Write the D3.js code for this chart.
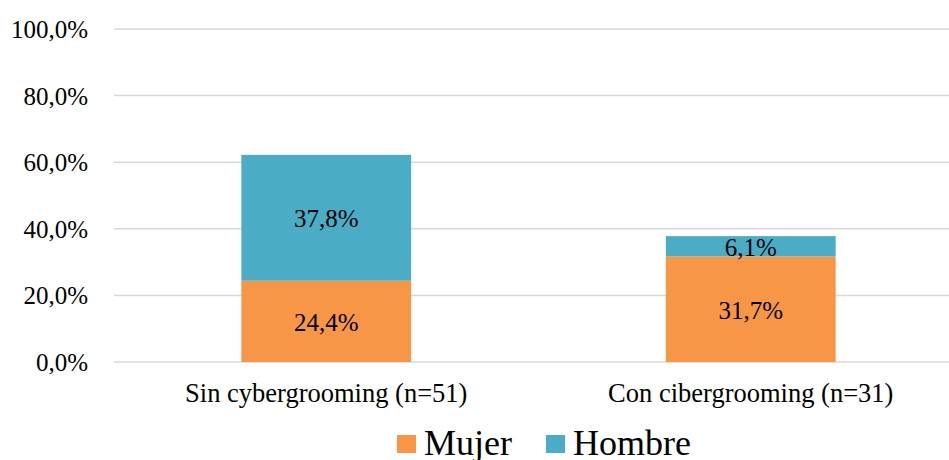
<!DOCTYPE html>
<html>
<head>
<meta charset="utf-8">
<script src="https://cdn.jsdelivr.net/npm/d3@7"></script>
<style>
  body { margin: 0; background: #fff; }
</style>
</head>
<body>
<div id="chart"></div>
<script>
const width = 949;
const height = 460;
const font = "Liberation Serif, Times New Roman, serif";

const categories = ["Sin cybergrooming (n=51)", "Con cibergrooming (n=31)"];
const seriesNames = ["Mujer", "Hombre"];
const mujer = [24.4, 31.7];
const hombre = [37.8, 6.1];
const yTicks = [0, 20, 40, 60, 80, 100];
const colors = ["#F79646", "#4BACC6"];

const rows = categories.map((c, i) => ({ cat: c, Mujer: mujer[i], Hombre: hombre[i] }));
const stacked = d3.stack().keys(seriesNames)(rows);

const svg = d3.select("#chart").append("svg")
    .attr("width", width)
    .attr("height", height)
    .attr("font-family", font)
    .style("display", "block");

const x = d3.scaleBand()
    .domain(categories)
    .range([114, 963])
    .paddingInner(0.6)
    .paddingOuter(0.3);

const y = d3.scaleLinear()
    .domain([0, 100])
    .range([362, 29]);

const fmt = v => d3.format(".1f")(v).replace(".", ",") + "%";

// gridlines
svg.append("g")
    .selectAll("line")
    .data(yTicks)
    .join("line")
    .attr("x1", 114)
    .attr("x2", width)
    .attr("y1", d => y(d))
    .attr("y2", d => y(d))
    .attr("stroke", "#D9D9D9")
    .attr("stroke-width", 1.5);

// y labels
svg.append("g")
    .selectAll("text")
    .data(yTicks)
    .join("text")
    .attr("x", 88)
    .attr("y", d => y(d))
    .attr("dy", "0.36em")
    .attr("text-anchor", "end")
    .attr("font-size", 25)
    .attr("fill", "#000")
    .text(d => fmt(d));

// bars
const layers = svg.append("g")
    .selectAll("g")
    .data(stacked)
    .join("g")
    .attr("fill", (d, i) => colors[i]);

layers.selectAll("rect")
    .data(d => d)
    .join("rect")
    .attr("x", d => x(d.data.cat))
    .attr("width", x.bandwidth())
    .attr("y", d => y(d[1]))
    .attr("height", d => y(d[0]) - y(d[1]));

// value labels
layers.selectAll("text")
    .data(d => d.map(v => ({ v, key: d.key })))
    .join("text")
    .attr("x", d => x(d.v.data.cat) + x.bandwidth() / 2)
    .attr("y", d => (y(d.v[0]) + y(d.v[1])) / 2)
    .attr("dy", "0.38em")
    .attr("text-anchor", "middle")
    .attr("fill", "#000")
    .attr("font-size", 25)
    .text(d => fmt(d.v.data[d.key]));

// category labels
svg.append("g")
    .selectAll("text")
    .data(categories)
    .join("text")
    .attr("x", d => x(d) + x.bandwidth() / 2)
    .attr("y", 402)
    .attr("text-anchor", "middle")
    .attr("font-size", 26.5)
    .attr("fill", "#000")
    .text(d => d);

// legend
const legendX = [397, 546];
const legend = svg.append("g")
    .selectAll("g")
    .data(seriesNames)
    .join("g")
    .attr("transform", (d, i) => `translate(${legendX[i]},0)`);

legend.append("rect")
    .attr("x", 0)
    .attr("y", 435)
    .attr("width", 19)
    .attr("height", 18)
    .attr("fill", (d, i) => colors[i]);

legend.append("text")
    .attr("x", 27)
    .attr("y", 455)
    .attr("font-size", 36)
    .attr("fill", "#000")
    .text(d => d);
</script>
</body>
</html>
